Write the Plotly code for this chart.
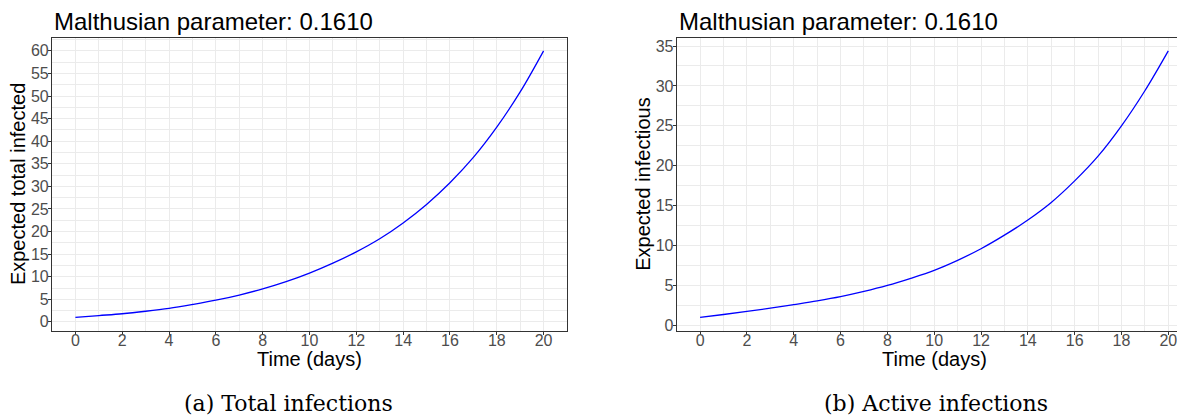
import plotly.graph_objects as go

days = list(range(0, 21))
total_infected = [1.0, 1.4, 1.8, 2.35, 3.0, 3.85, 4.8, 5.95, 7.3, 8.9, 10.8,
                  13.0, 15.5, 18.4, 21.9, 26.0, 30.8, 36.4, 43.1, 50.9, 60.0]
active_infectious = [1.0, 1.36, 1.75, 2.15, 2.6, 3.07, 3.6, 4.25, 5.0, 5.9, 6.9,
                     8.15, 9.6, 11.3, 13.2, 15.4, 18.1, 21.2, 25.0, 29.4, 34.4]

panel_title = "Malthusian parameter: 0.1610"
x_title = "Time (days)"
y_titles = ["Expected total infected", "Expected infectious"]
captions = ["(a) Total infections", "(b) Active infections"]
x_ticks = list(range(0, 21, 2))
y_ticks_left = list(range(0, 61, 5))
y_ticks_right = list(range(0, 36, 5))

W, H = 1177, 419
def px(x):
    return x / W
def py(y):
    return 1 - y / H

L1, R1 = 52, 567
L2, R2 = 676.7, 1177
TOP, BOT = 37.5, 330.7
xscale = (R1 - L1) / 22.0
right_xmax = -1 + (R2 - L2) / xscale

fig = go.Figure()
fig.add_trace(go.Scatter(x=days, y=total_infected, mode="lines", line=dict(color="#0000ff", width=1.3, shape="spline"),
                         xaxis="x", yaxis="y", showlegend=False))
fig.add_trace(go.Scatter(x=days, y=active_infectious, mode="lines", line=dict(color="#0000ff", width=1.3, shape="spline"),
                         xaxis="x2", yaxis="y2", showlegend=False))

tickfont = dict(family="Liberation Sans, Arial, sans-serif", size=16, color="#4d4d4d")
grid = "#ebebeb"

def xaxis(domain, rng):
    return dict(domain=domain, range=rng, tickvals=x_ticks, showgrid=True, gridcolor=grid, gridwidth=1.1,
                minor=dict(dtick=1, tick0=0, showgrid=True, gridcolor=grid, gridwidth=0.55, ticks=""),
                showline=True, linecolor="#333333", linewidth=1.1, mirror=True,
                ticks="outside", ticklen=3, tickcolor="#333333", tickwidth=1,
                ticklabelstandoff=-8, ticklabeloverflow="allow",
                tickfont=tickfont, zeroline=False, automargin=False, fixedrange=True)

def yaxis(domain, rng, ticks, mirror):
    return dict(domain=domain, range=rng, tickvals=ticks, showgrid=True, gridcolor=grid, gridwidth=1.1,
                minor=dict(dtick=2.5, tick0=0, showgrid=True, gridcolor=grid, gridwidth=0.55, ticks=""),
                showline=True, linecolor="#333333", linewidth=1.1, mirror=mirror,
                ticks="outside", ticklen=3, tickcolor="#333333", tickwidth=1,
                ticklabelstandoff=-4, ticklabeloverflow="allow",
                tickfont=tickfont, zeroline=False, automargin=False, fixedrange=True)

ydom = [py(BOT), py(TOP)]
fig.update_layout(
    width=W, height=H, margin=dict(l=0, r=0, t=0, b=0),
    paper_bgcolor="white", plot_bgcolor="white",
    xaxis=xaxis([px(L1), px(R1)], [-1, 21]),
    yaxis=yaxis(ydom, [-1.95, 62.95], y_ticks_left, True),
    xaxis2=xaxis([px(L2), 1.0], [-1, right_xmax]),
    yaxis2=yaxis(ydom, [-0.67, 36.07], y_ticks_right, False),
)
fig.layout.xaxis2.anchor = "y2"
fig.layout.yaxis2.anchor = "x2"

sans = "Liberation Sans, Arial, sans-serif"
ann = []
for left, right, ytitle, cap, capx in [(L1, R1, y_titles[0], captions[0], 288), (L2, L2 + 22 * xscale, y_titles[1], captions[1], 936)]:
    ann.append(dict(text=panel_title, x=px(left), y=py(22), xref="paper", yref="paper", xanchor="left", yanchor="middle",
                    showarrow=False, font=dict(family=sans, size=24, color="black")))
    ann.append(dict(text=x_title, x=px((left + right) / 2), y=py(358.5), xref="paper", yref="paper", xanchor="center",
                    yanchor="middle", showarrow=False, font=dict(family=sans, size=20, color="black")))
    ann.append(dict(text=ytitle, x=px(left - 34), y=py((TOP + BOT) / 2), xref="paper", yref="paper", xanchor="center",
                    yanchor="middle", textangle=-90, showarrow=False, font=dict(family=sans, size=20, color="black")))
    ann.append(dict(text=cap, x=px(capx), y=py(403), xref="paper", yref="paper", xanchor="center", yanchor="middle",
                    showarrow=False, font=dict(family="DejaVu Serif, serif", size=22, color="black")))
fig.update_layout(annotations=ann)

fig.write_html("out.html", config={"displayModeBar": False},
               post_script="document.body.style.margin='0px';document.body.style.overflow='hidden';")
